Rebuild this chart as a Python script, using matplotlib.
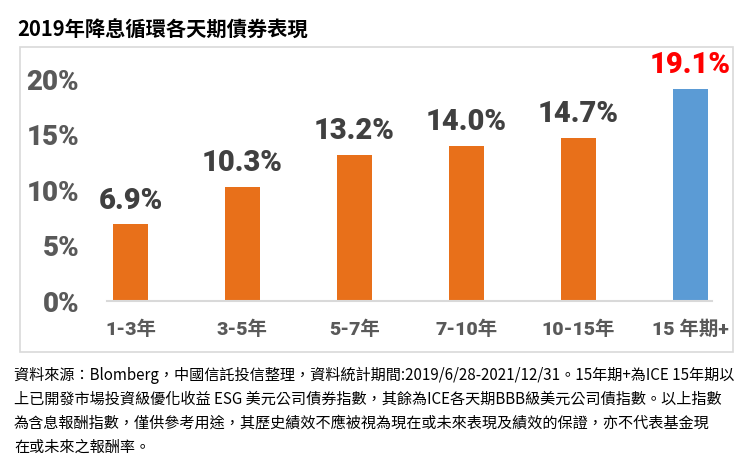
import matplotlib
matplotlib.use("Agg")
import matplotlib.pyplot as plt
from matplotlib.patches import Rectangle

# data
categories = ["1-3年", "3-5年", "5-7年", "7-10年", "10-15年", "15 年期+"]
returns = [6.9, 10.3, 13.2, 14.0, 14.7, 19.1]
y_ticks = [0, 5, 10, 15, 20]
title = "2019年降息循環各天期債券表現"
notes = [
    "資料來源：Blomberg，中國信託投信整理，資料統計期間:2019/6/28-2021/12/31。15年期+為ICE 15年期以",
    "上已開發市場投資級優化收益 ESG 美元公司債券指數，其餘為ICE各天期BBB級美元公司債指數。以上指數",
    "為含息報酬指數，僅供參考用途，其歷史績效不應被視為現在或未來表現及績效的保證，亦不代表基金現",
    "在或未來之報酬率。",
]

orange = "#E8701A"
blue = "#5B9BD5"
fam = ["Roboto", "Noto Sans CJK TC", "DejaVu Sans"]
cjk = ["Noto Sans CJK TC", "DejaVu Sans"]

fig = plt.figure(figsize=(7.5, 4.73), dpi=100)
W, H = 750, 473

# light frame around the plot area
fig.patches.append(Rectangle((20 / W, 1 - 352 / H), 713 / W, 305 / H,
                             transform=fig.transFigure, fill=False,
                             edgecolor="#d9d9d9", linewidth=1.2))

ax = fig.add_axes([107 / W, 172 / H, 605 / W, 227.5 / H])
x = list(range(len(categories)))
colors = [orange] * (len(categories) - 1) + [blue]
bars = ax.bar(x, returns, width=0.31, color=colors)

ax.set_xlim(-0.21, 5.195)
ax.set_ylim(0, 20.5)
ax.set_yticks(y_ticks)
ax.set_yticklabels([f"{t}%" for t in y_ticks], family=fam,
                   fontsize=20, fontweight="black", color="#595959")
ax.set_xticks(x)
ax.set_xticklabels(categories, family=fam, fontsize=14,
                   fontweight="black", color="#595959")
ax.tick_params(axis="y", length=0, pad=20)
ax.tick_params(axis="x", length=0, pad=14)
for s in ["top", "right", "left"]:
    ax.spines[s].set_visible(False)
ax.spines["bottom"].set_color("#d9d9d9")
ax.spines["bottom"].set_linewidth(1.5)

for i, (b, v) in enumerate(zip(bars, returns)):
    c = "#FF0000" if i == len(returns) - 1 else "#404040"
    ax.annotate(f"{v:.1f}%", (b.get_x() + b.get_width() / 2, v),
                xytext=(0, 7), textcoords="offset points", ha="center",
                va="bottom", family=fam, fontsize=21, fontweight="black",
                color=c)

fig.text(17 / W, 1 - 30 / H, title, family=cjk, fontsize=14.6,
         fontweight="bold", color="black", va="center")

for k, line in enumerate(notes):
    fig.text(14 / W, 1 - (375 + 24 * k) / H, line, family=cjk,
             fontsize=10.9, color="black", va="center")

fig.savefig("out.png", dpi=100)
